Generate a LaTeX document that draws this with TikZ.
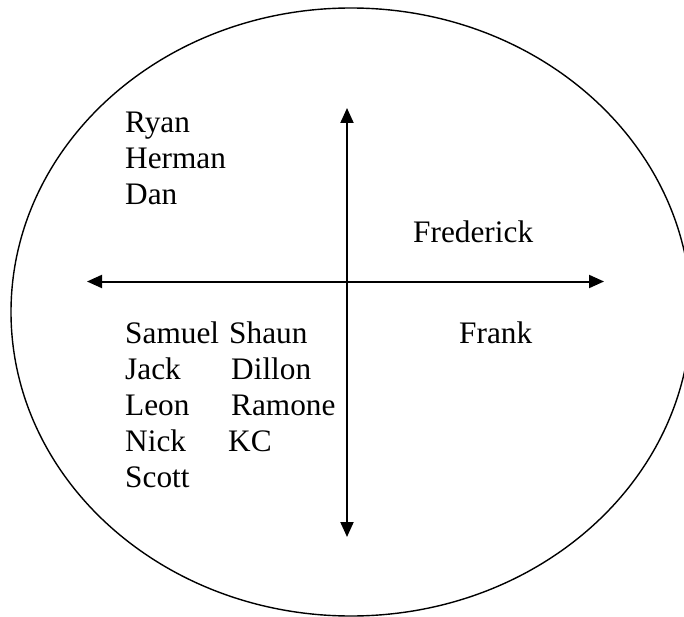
\documentclass[tikz,border=0pt]{standalone}
\usepackage{fontspec}
\setmainfont{Liberation Serif}
\usetikzlibrary{arrows.meta}
\begin{document}
\begin{tikzpicture}[x=1pt,y=-1pt,
  lbl/.style={anchor=base west, inner sep=0pt, font=\fontsize{31.3}{36}\selectfont},
  axisline/.style={line width=2pt, {Triangle[length=15pt,width=13pt]}-{Triangle[length=15pt,width=13pt]}}]
\useasboundingbox (0,0) rectangle (684,617);
\begin{scope}
\clip (0,0) rectangle (684,617);
\draw[line width=1.4pt] (351,312) ellipse [x radius=340pt, y radius=304pt];
\end{scope}
\coordinate (vtop) at (347,108);
\coordinate (vbot) at (347,537);
\coordinate (hleft) at (87,281.5);
\coordinate (hright) at (604,281.5);
\draw[axisline] (vbot) -- (vtop);
\draw[axisline] (hleft) -- (hright);
\node[lbl] (ryan) at (125,133) {Ryan};
\node[lbl] (herman) at (125,169) {Herman};
\node[lbl] (dan) at (125,205) {Dan};
\node[lbl] (frederick) at (413,243) {Frederick};
\node[lbl] (frank) at (459,343) {Frank};
\node[lbl] (samuel) at (125,343) {Samuel};
\node[lbl] (shaun) at (229,343) {Shaun};
\node[lbl] (jack) at (125,379) {Jack};
\node[lbl] (dillon) at (231,379) {Dillon};
\node[lbl] (leon) at (125,415) {Leon};
\node[lbl] (ramone) at (231,415) {Ramone};
\node[lbl] (nick) at (125,451) {Nick};
\node[lbl] (kc) at (228,451) {KC};
\node[lbl] (scott) at (125,487) {Scott};
\end{tikzpicture}
\end{document}
